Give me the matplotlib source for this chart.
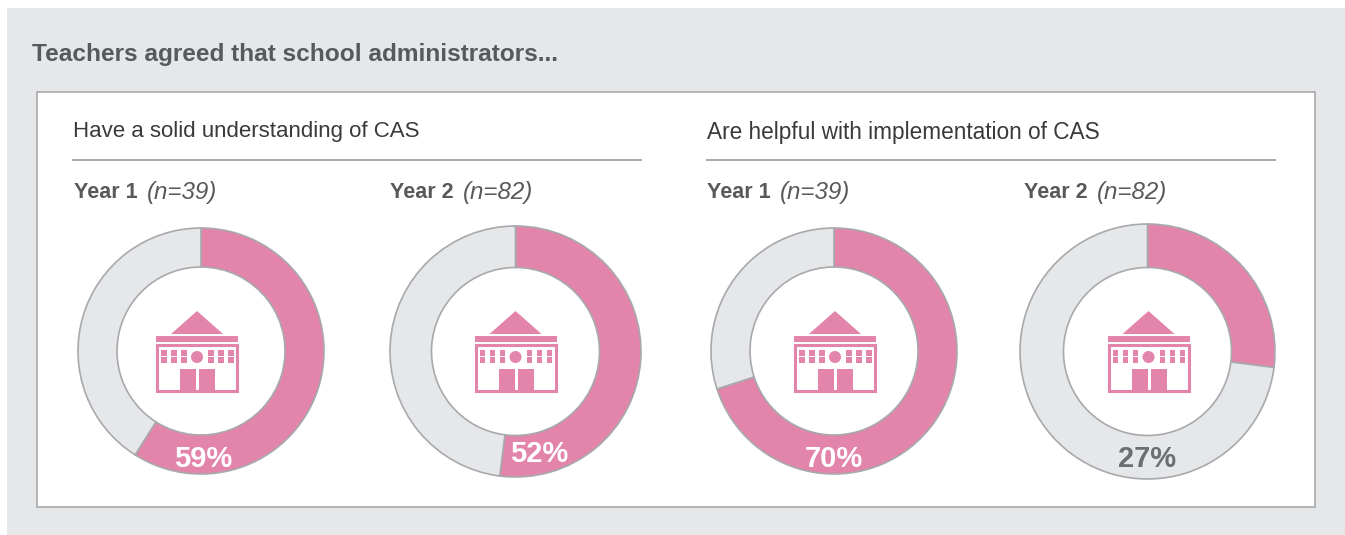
import matplotlib
matplotlib.use('Agg')
import matplotlib.pyplot as plt
from matplotlib.patches import Rectangle, Polygon, Circle

W = 1345
H = 535

title = 'Teachers agreed that school administrators...'
headings = ['Have a solid understanding of CAS', 'Are helpful with implementation of CAS']
years = ['Year 1', 'Year 2', 'Year 1', 'Year 2']
samples = ['(n=39)', '(n=82)', '(n=39)', '(n=82)']
agreed = [59, 52, 70, 27]

PINK = '#e384ab'
LIGHT = '#e6e7e8'
EDGE = '#a7a9ac'
DARK = '#58595b'

# donut layout in pixels: centre x, centre y, outer radius, inner radius
donuts = [(201, 351, 123, 84),
          (515.5, 351.5, 125.5, 84),
          (834, 351, 123, 84),
          (1147.5, 351.5, 127.5, 84)]
icon_x = [197, 515.5, 835, 1148.5]
label_x = [203.5, 539, 833.5, 1147.5]
label_y = [459, 454, 459, 459]
year_x = [74, 390, 707, 1024]

plt.rcParams['font.family'] = ['Liberation Sans', 'DejaVu Sans']

fig = plt.figure(figsize=(W / 100, H / 100), dpi=100, facecolor='white')
ax = fig.add_axes([0, 0, 1, 1])
ax.set_xlim(0, W)
ax.set_ylim(H, 0)
ax.axis('off')

ax.add_patch(Rectangle((7, 8), W - 7, H - 8, fc=LIGHT, ec='none'))
ax.add_patch(Rectangle((37, 92), 1278, 415, fc='white', ec=EDGE, lw=1.2))

ax.text(32, 55, title, fontsize=17.6, fontweight='bold', color=DARK, va='center')

for x0, x1, head, size in zip([73, 707], [641, 1275], headings, [16, 16.25]):
    ax.text(x0, 132, head, fontsize=size, color='#3a3a3c', va='center')
    ax.plot([x0, x1], [159.5, 159.5], color=EDGE, lw=1.4)


def draw_icon(cx, cy=351):
    # little school building, offsets are from the icon centre
    ax.add_patch(Polygon([(cx - 26, cy - 17), (cx, cy - 40), (cx + 26, cy - 17)], fc=PINK, ec='none'))
    ax.add_patch(Rectangle((cx - 41, cy - 15), 82, 6, fc=PINK, ec='none'))
    ax.add_patch(Rectangle((cx - 40, cy - 6), 80, 46, fc='white', ec=PINK, lw=2.2))
    for dx in [-36, -26, -16, 11, 21, 31]:
        for dy in [-1, 6]:
            ax.add_patch(Rectangle((cx + dx, cy + dy), 5.5, 5.5, fc=PINK, ec='none'))
    ax.add_patch(Circle((cx, cy + 6), 6, fc=PINK, ec='none'))
    ax.add_patch(Rectangle((cx - 17, cy + 18), 16, 22, fc=PINK, ec='none'))
    ax.add_patch(Rectangle((cx + 2, cy + 18), 16, 22, fc=PINK, ec='none'))


for i, (cx, cy, ro, ri) in enumerate(donuts):
    sub = fig.add_axes([(cx - ro) / W, 1 - (cy + ro) / H, 2 * ro / W, 2 * ro / H])
    wedges, _ = sub.pie([agreed[i], 100 - agreed[i]], colors=[PINK, LIGHT], startangle=90, counterclock=False,
                        radius=1, wedgeprops={'width': 1 - ri / ro, 'edgecolor': EDGE, 'linewidth': 1.2})
    for w in wedges:
        w.set_clip_on(False)
    sub.set_xlim(-1, 1)
    sub.set_ylim(-1, 1)

    draw_icon(icon_x[i])

    t = ax.text(year_x[i], 193, years[i], fontsize=15.5, fontweight='bold', color=DARK, va='center')
    fig.canvas.draw()
    bb = t.get_window_extent()
    ax.text(bb.x1 + 9, 193, samples[i], fontsize=17.4, style='italic', color=DARK, va='center')

# labels go on an overlay so they sit above the pies
top = fig.add_axes([0, 0, 1, 1], facecolor='none')
top.set_xlim(0, W)
top.set_ylim(H, 0)
top.axis('off')
for i in range(4):
    col = 'white' if agreed[i] > 50 else '#6d6e71'
    top.text(label_x[i], label_y[i], '%d%%' % agreed[i], fontsize=21, fontweight='bold',
             color=col, ha='center', va='center')

fig.savefig('out.png', dpi=100)
